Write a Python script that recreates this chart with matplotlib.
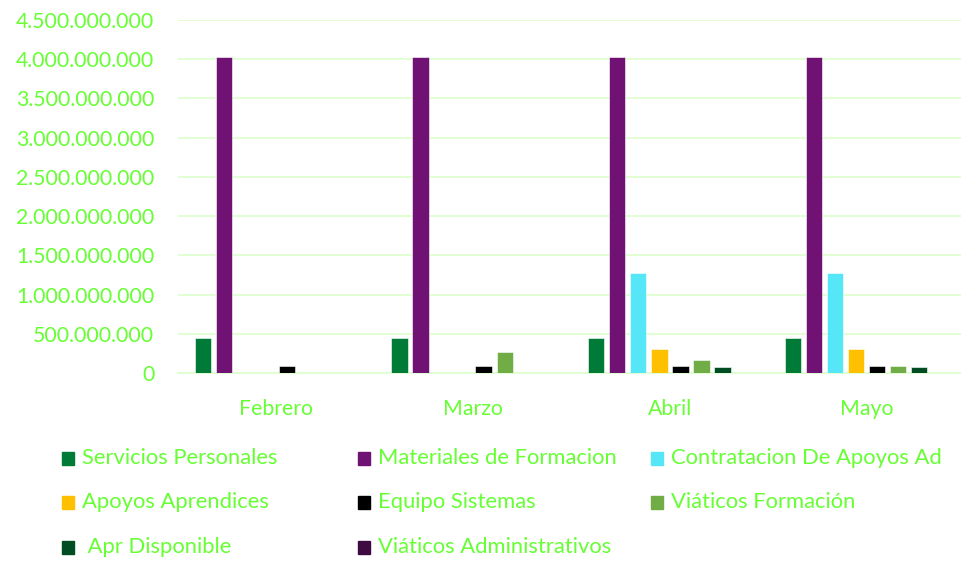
import matplotlib.pyplot as plt
import numpy as np
from matplotlib.ticker import FuncFormatter
from matplotlib.patches import Rectangle

months = ["Febrero", "Marzo", "Abril", "Mayo"]
series = ["Servicios Personales", "Materiales de Formacion", "Contratacion De Apoyos Ad",
          "Apoyos Aprendices", "Equipo Sistemas", "Viáticos Formación",
          " Apr Disponible", "Viáticos Administrativos"]
servicios = [450e6, 450e6, 450e6, 450e6]
materiales = [4.03e9, 4.03e9, 4.03e9, 4.03e9]
contratacion = [0, 0, 1.27e9, 1.27e9]
apoyos = [0, 0, 300e6, 300e6]
equipo = [95e6, 95e6, 95e6, 95e6]
viaticos_form = [0, 262e6, 170e6, 92e6]
apr_disp = [0, 0, 80e6, 80e6]
viaticos_adm = [0, 0, 0, 0]
values = [servicios, materiales, contratacion, apoyos, equipo, viaticos_form, apr_disp, viaticos_adm]
colors = ["#007a37", "#701274", "#55e6f7", "#ffc000", "#000000", "#70ad47", "#004d23", "#3f0a42"]

txt = "#66ff33"
plt.rcParams['font.family'] = ['Lato', 'DejaVu Sans']

W, H = 962, 561
fig = plt.figure(figsize=(W / 100, H / 100), dpi=100)
ax = fig.add_axes([178 / W, 1 - 373 / H, 787 / W, 353 / H])

x = np.arange(len(months))
pitch = 0.107
width = 0.083
for i, (vals, c) in enumerate(zip(values, colors)):
    ax.bar(x + (i - 3.5) * pitch, vals, width, color=c, edgecolor="white",
           linewidth=0.4, label=series[i], zorder=3)

ax.set_ylim(0, 4.5e9)
ax.set_xlim(-0.5, 3.5)
ax.set_yticks(np.arange(0, 4.5e9 + 1, 5e8))
ax.yaxis.set_major_formatter(FuncFormatter(lambda v, p: f"{int(v):,}".replace(",", ".")))
ax.set_xticks(x)
ax.set_xticklabels(months)
ax.tick_params(axis="both", length=0, colors=txt, labelsize=15.3)
ax.tick_params(axis="y", pad=17)
ax.tick_params(axis="x", pad=19)
ax.grid(axis="y", color="#ddffcc", linewidth=1.2, zorder=0)
for s in ["top", "right", "left"]:
    ax.spines[s].set_visible(False)
ax.spines["bottom"].set_color("#ddffcc")
ax.spines["bottom"].set_linewidth(1.2)

# legend laid out like the Excel one: 3 fixed-width columns
col_x = [62, 358, 651]
row_y = [458, 502, 547]
for i, (name, c) in enumerate(zip(series, colors)):
    cx = col_x[i % 3]
    cy = row_y[i // 3]
    fig.patches.append(Rectangle((cx / W, 1 - (cy + 7) / H), 12 / W, 13 / H,
                                 transform=fig.transFigure, color=c))
    fig.text((cx + 20) / W, 1 - cy / H, name, color=txt, fontsize=15.8, va="center")

fig.savefig("out.png", dpi=100)
